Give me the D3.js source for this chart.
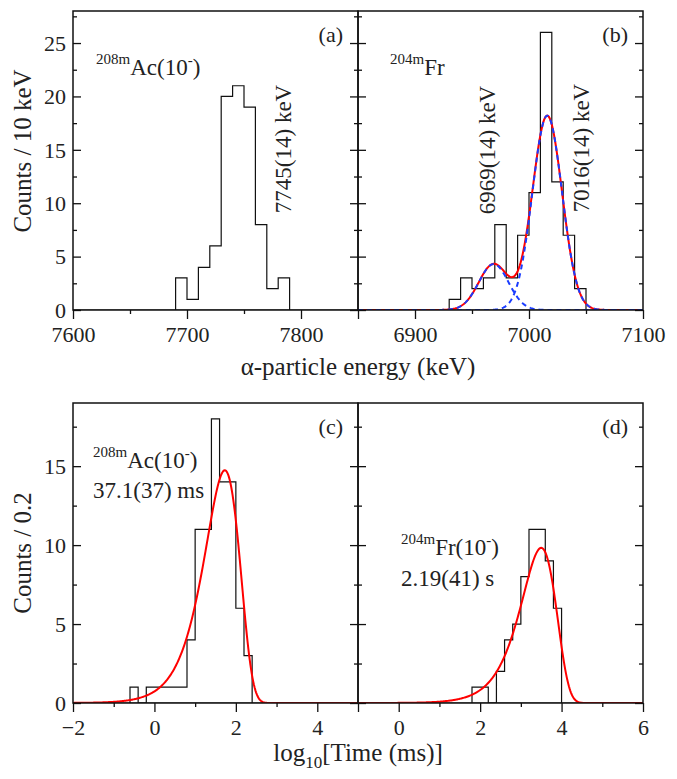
<!DOCTYPE html>
<html>
<head>
<meta charset="utf-8">
<script src="https://cdn.jsdelivr.net/npm/d3@7"></script>
<style>
  body { margin: 0; background: #fff; }
  text { font-family: "Liberation Serif", "Times New Roman", serif; fill: #222; }
</style>
</head>
<body>
<div id="chart"></div>
<script>
// ---- data ----
// (a) 208mAc alpha energies, 10 keV bins
var acEnergyEdges = [7690, 7700, 7710, 7720, 7730, 7740, 7750, 7760, 7770, 7780, 7790];
var acEnergyCounts = [3, 1, 4, 6, 20, 21, 19, 8, 2, 3];
// (b) 204mFr alpha energies, 10 keV bins
var frEnergyEdges = [6930, 6940, 6950, 6960, 6970, 6980, 6990, 7000, 7010, 7020, 7030, 7040, 7050];
var frEnergyCounts = [1, 3, 2, 3, 8, 3, 7, 11, 26, 12, 7, 2];
// two-gaussian fit of (b)
var frPeakCentroids = [6969, 7016];
var frPeakHeights = [4.3, 18.2];
var frPeakSigmas = [13, 13];
// (c) 208mAc decay times, log10(t/ms), 0.2 bins
var acTimeEdges = [-0.6, -0.4, -0.2, 0, 0.2, 0.4, 0.6, 0.8, 1.0, 1.2, 1.4, 1.6, 1.8, 2.0, 2.2, 2.4];
var acTimeCounts = [1, 0, 1, 1, 1, 1, 1, 4, 11, 11, 18, 14, 14, 6, 3];
// (d) 204mFr decay times
var frTimeEdges = [1.8, 2.0, 2.2, 2.4, 2.6, 2.8, 3.0, 3.2, 3.4, 3.6, 3.8, 4.0];
var frTimeCounts = [1, 1, 0, 2, 4, 5, 8, 11, 11, 9, 6];
// half-lives used for the decay curves (ms)
var halfLivesMs = [37.1, 2190];
var timeBin = 0.2;

var W = 677, H = 779;
var L = 73, M = 358, R = 643;
var rows = [{ top: 11, bottom: 310 }, { top: 403, bottom: 703 }];

var svg = d3.select("#chart").append("svg")
    .attr("width", W).attr("height", H);

function histPath(x, y, edges, counts) {
    var p = d3.path();
    p.moveTo(x(edges[0]), y(0));
    counts.forEach(function (c, i) {
        p.lineTo(x(edges[i]), y(c));
        p.lineTo(x(edges[i + 1]), y(c));
    });
    p.lineTo(x(edges[edges.length - 1]), y(0));
    return p.toString();
}

function panel(o) {
    var row = rows[o.row];
    var x0 = o.col == 0 ? L : M, x1 = o.col == 0 ? M : R;
    var x = d3.scaleLinear().domain(o.xDomain).range([x0, x1]);
    var y = d3.scaleLinear().domain(o.yDomain).range([row.bottom, row.top]);
    var g = svg.append("g");
    var id = "clip" + o.name;
    g.append("clipPath").attr("id", id).append("rect")
        .attr("x", x0).attr("y", row.top).attr("width", x1 - x0).attr("height", row.bottom - row.top);

    // x ticks, outside
    function xAxis(vals, size, labels) {
        var ax = d3.axisBottom(x).tickValues(vals).tickSize(size).tickPadding(7)
            .tickFormat(labels ? d3.format("d") : "");
        var a = g.append("g").attr("transform", "translate(0," + row.bottom + ")").call(ax);
        a.select(".domain").remove();
        a.selectAll("line").attr("stroke", "#111").attr("stroke-width", 1.3);
        a.selectAll("text").style("font-size", "22px").attr("fill", "#222")
            .attr("font-family", "Liberation Serif");
    }
    xAxis(o.xMajor, 9, true);
    xAxis(o.xEdge, 9, false);
    xAxis(o.xMinor, 4, false);

    // y ticks, inward on both sides
    function yAxis(vals, size) {
        var a1 = g.append("g").attr("transform", "translate(" + x0 + ",0)")
            .call(d3.axisRight(y).tickValues(vals).tickSize(size).tickFormat(""));
        var a2 = g.append("g").attr("transform", "translate(" + x1 + ",0)")
            .call(d3.axisLeft(y).tickValues(vals).tickSize(size).tickFormat(""));
        [a1, a2].forEach(function (a) {
            a.select(".domain").remove();
            a.selectAll("line").attr("stroke", "#111").attr("stroke-width", 1.3);
        });
    }
    yAxis(o.yMajor, 8);
    yAxis(o.yMinor, 4);
    if (o.col == 0) {
        g.selectAll(".ylab").data(o.yMajor).enter().append("text")
            .attr("x", x0 - 7).attr("y", function (d) { return y(d); })
            .attr("dy", "0.35em").attr("text-anchor", "end")
            .style("font-size", "22px").text(function (d) { return d; });
    }

    var plot = g.append("g").attr("clip-path", "url(#" + id + ")");
    plot.append("path").attr("d", histPath(x, y, o.edges, o.counts))
        .attr("fill", "none").attr("stroke", "#111").attr("stroke-width", 1.2);
    plot.append("line").attr("x1", x0).attr("x2", x1)
        .attr("y1", y(0)).attr("y2", y(0)).attr("stroke", "#111").attr("stroke-width", 1.2);

    if (o.curves) {
        o.curves.forEach(function (cv) {
            var pts = d3.range(0, 401).map(function (i) {
                var v = o.xDomain[0] + (o.xDomain[1] - o.xDomain[0]) * i / 400;
                return [v, cv.f(v)];
            });
            plot.append("path")
                .attr("d", d3.line().x(function (d) { return x(d[0]); }).y(function (d) { return y(d[1]); })(pts))
                .attr("fill", "none").attr("stroke", cv.color).attr("stroke-width", 2)
                .attr("stroke-dasharray", cv.dash || null);
        });
    }

    g.append("rect").attr("x", x0).attr("y", row.top)
        .attr("width", x1 - x0).attr("height", row.bottom - row.top)
        .attr("fill", "none").attr("stroke", "#111").attr("stroke-width", 1.5);

    // panel letter
    g.append("text").attr("x", x1 - 15).attr("y", row.top + 31)
        .attr("text-anchor", "end").style("font-size", "22px").text(o.letter);
    return { g: g, x: x, y: y };
}

function gauss(i) {
    return function (v) {
        var s = frPeakSigmas[i];
        return frPeakHeights[i] * Math.exp(-(v - frPeakCentroids[i]) * (v - frPeakCentroids[i]) / (2 * s * s));
    };
}
function decay(halfLife, n) {
    var lam = Math.LN2 / halfLife;
    return function (v) {
        var lt = lam * Math.pow(10, v);
        return n * timeBin * Math.LN10 * lt * Math.exp(-lt);
    };
}

var topMajor = [0, 5, 10, 15, 20, 25], topMinor = [2.5, 7.5, 12.5, 17.5, 22.5, 27.5];
var botMajor = [0, 5, 10, 15], botMinor = [2.5, 7.5, 12.5, 17.5];

var pa = panel({ name: "a", row: 0, col: 0, letter: "(a)", xDomain: [7600, 7850], yDomain: [0, 28],
    xMajor: [7600, 7700, 7800], xMinor: [7650, 7750], xEdge: [7850],
    yMajor: topMajor, yMinor: topMinor, edges: acEnergyEdges, counts: acEnergyCounts });

var g1 = gauss(0), g2 = gauss(1);
var pb = panel({ name: "b", row: 0, col: 1, letter: "(b)", xDomain: [6850, 7100], yDomain: [0, 28],
    xMajor: [6900, 7000, 7100], xMinor: [6950, 7050], xEdge: [],
    yMajor: topMajor, yMinor: topMinor, edges: frEnergyEdges, counts: frEnergyCounts,
    curves: [
        { color: "#ff0000", f: function (v) { return g1(v) + g2(v); } },
        { color: "#1a3cff", dash: "5,4", f: g1 },
        { color: "#1a3cff", dash: "5,4", f: g2 }
    ] });

var pc = panel({ name: "c", row: 1, col: 0, letter: "(c)", xDomain: [-2, 5], yDomain: [0, 19],
    xMajor: [-2, 0, 2, 4], xMinor: [-1, 1, 3], xEdge: [5],
    yMajor: botMajor, yMinor: botMinor, edges: acTimeEdges, counts: acTimeCounts,
    curves: [{ color: "#ff0000", f: decay(halfLivesMs[0], d3.sum(acTimeCounts)) }] });

var pd = panel({ name: "d", row: 1, col: 1, letter: "(d)", xDomain: [-1, 6], yDomain: [0, 19],
    xMajor: [0, 2, 4, 6], xMinor: [1, 3, 5], xEdge: [],
    yMajor: botMajor, yMinor: botMinor, edges: frTimeEdges, counts: frTimeCounts,
    curves: [{ color: "#ff0000", f: decay(halfLivesMs[1], d3.sum(frTimeCounts)) }] });

// nuclide labels with superscripts
function nuclide(xp, yp, mass, sym, spin) {
    var t = svg.append("text").attr("x", xp).attr("y", yp).style("font-size", "23px");
    t.append("tspan").style("font-size", "15px").attr("dy", -11).text(mass);
    t.append("tspan").attr("dy", 11).text(sym + (spin ? "(10" : ""));
    if (spin) {
        t.append("tspan").style("font-size", "15px").attr("dy", -10).text("-");
        t.append("tspan").attr("dy", 10).text(")");
    }
}
nuclide(96, 75, "208m", "Ac", true);
nuclide(390, 75, "204m", "Fr", false);
nuclide(93, 468, "208m", "Ac", true);
nuclide(401, 555, "204m", "Fr", true);

function plain(xp, yp, s) {
    svg.append("text").attr("x", xp).attr("y", yp).style("font-size", "23px").text(s);
}
plain(93, 498, "37.1(37) ms");
plain(401, 586, "2.19(41) s");

function vert(xp, yp, s, size) {
    svg.append("text").attr("transform", "translate(" + xp + "," + yp + ") rotate(-90)")
        .attr("text-anchor", "middle").style("font-size", size + "px").text(s);
}
vert(291, 149, "7745(14) keV", 23);
vert(495, 150, "6969(14) keV", 23);
vert(589, 148, "7016(14) keV", 23);

// axis titles
vert(31, 151, "Counts / 10 keV", 25);
vert(31, 553, "Counts / 0.2", 25);
svg.append("text").attr("x", M).attr("y", 375).attr("text-anchor", "middle")
    .style("font-size", "25px").text("α-particle energy (keV)");
var tt = svg.append("text").attr("x", M).attr("y", 761).attr("text-anchor", "middle")
    .style("font-size", "25px");
tt.append("tspan").text("log");
tt.append("tspan").style("font-size", "17px").attr("dy", 7).text("10");
tt.append("tspan").attr("dy", -7).text("[Time (ms)]");
</script>
</body>
</html>
